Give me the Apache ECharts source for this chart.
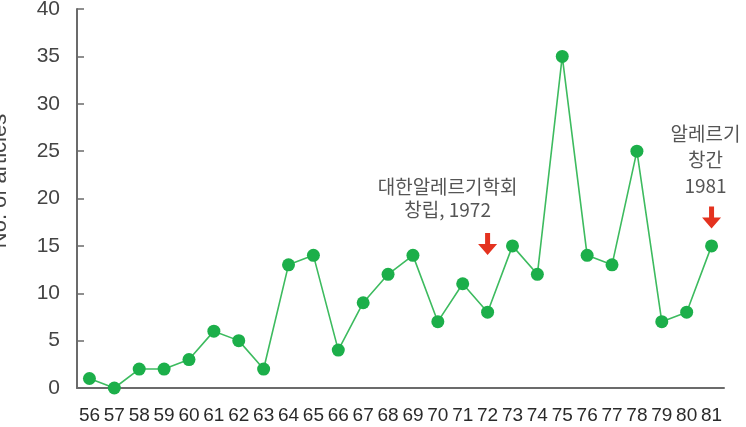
<!DOCTYPE html>
<html><head><meta charset="utf-8">
<script src="https://cdn.jsdelivr.net/npm/echarts@6/dist/echarts.min.js"></script>
<style>html,body{margin:0;padding:0;background:#fff}#c{width:746px;height:427px}</style>
</head><body><div id="c"></div>
<script>
const years = ['56','57','58','59','60','61','62','63','64','65','66','67','68','69','70','71','72','73','74','75','76','77','78','79','80','81'];
const articles = [1,0,2,2,3,6,5,2,13,14,4,9,12,14,7,11,8,15,12,35,14,13,25,7,8,15];
const yTicks = {min:0, max:40, interval:5};
const yName = 'No. of articles';
const notes = [
  {cat:'72', text:'대한알레르기학회\n창립, 1972', arrowVal:15.2, textVal:17.6, dx:-40, lh:23},
  {cat:'81', text:'알레르기\n창간\n1981', arrowVal:18.0, textVal:20.0, dx:-6, lh:26}
];
const arrowPath = 'path://M7,0 L12,0 L12,12 L19,12 L9.5,24 L0,12 L7,12 Z';
const chart = echarts.init(document.getElementById('c'));
const green = '#1caf4a';
chart.setOption({
  animation:false,
  grid:{left:77, right:22, top:9, bottom:39, containLabel:false, outerBoundsMode:'none'},
  xAxis:{type:'category', data:years, boundaryGap:true,
    axisLine:{lineStyle:{color:'#6b6b6b', width:2}},
    axisTick:{alignWithLabel:true, inside:true, length:7, lineStyle:{color:'#6b6b6b', width:1.5}},
    axisLabel:{color:'#2a2a2a', fontSize:19, margin:18, fontFamily:'Liberation Sans Narrow, Liberation Sans, sans-serif', interval:0}},
  yAxis:{type:'value', min:yTicks.min, max:yTicks.max, interval:yTicks.interval,
    axisLine:{show:true, lineStyle:{color:'#6b6b6b', width:2}},
    axisTick:{show:true, inside:true, length:7, lineStyle:{color:'#6b6b6b', width:1.5}},
    axisLabel:{color:'#444', fontSize:21, margin:17, fontFamily:'Liberation Sans, sans-serif'},
    splitLine:{show:false}},
  series:[{type:'line', data:articles, symbol:'circle', symbolSize:13,
    itemStyle:{color:green}, lineStyle:{color:'#3dbb5f', width:1.6},
    markPoint:{symbol:arrowPath, symbolSize:[19,22], itemStyle:{color:'#e4321f'}, label:{show:false},
      data:notes.map(n=>({coord:[n.cat, n.arrowVal]}))}
  }]
});
const gr = notes.map(n=>{
  const p = chart.convertToPixel({xAxisIndex:0, yAxisIndex:0}, [n.cat, n.textVal]);
  return {type:'text', x:p[0]+n.dx, y:p[1], style:{text:n.text, fill:'#555', fontSize:19, lineHeight:n.lh,
    fontFamily:'Noto Sans CJK KR, sans-serif', align:'center', verticalAlign:'bottom'}};
});
gr.push({type:'text', x:0, y:181, rotation:Math.PI/2,
  style:{text:yName, fill:'#444', fontSize:22, fontFamily:'Liberation Sans, sans-serif', align:'center', verticalAlign:'middle'}});
chart.setOption({graphic:gr});
</script></body></html>
